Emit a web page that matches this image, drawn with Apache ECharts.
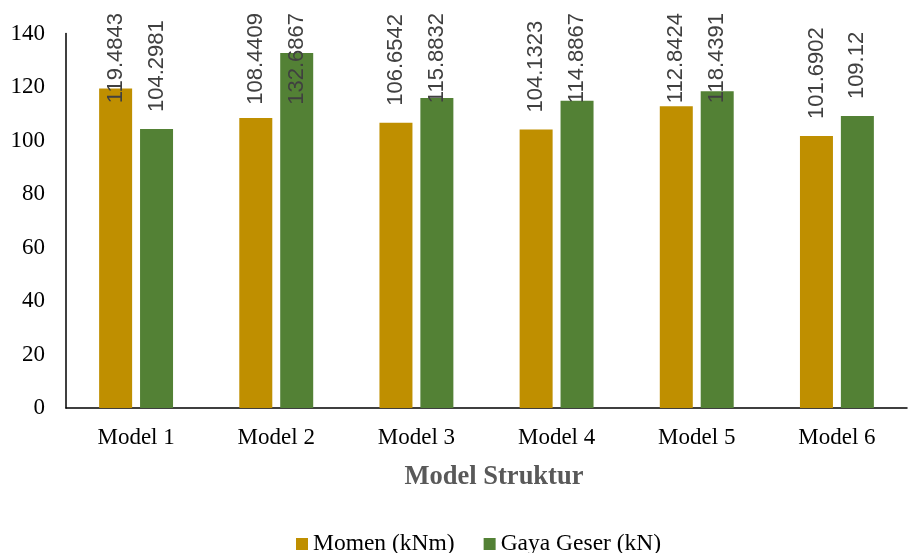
<!DOCTYPE html>
<html><head><meta charset="utf-8">
<script src="https://cdn.jsdelivr.net/npm/echarts@6/dist/echarts.min.js"></script>
<style>html,body{margin:0;padding:0;background:#fff}#c{width:909px;height:553px}</style>
</head><body><div id="c"></div>
<script>
const categories = ['Model 1','Model 2','Model 3','Model 4','Model 5','Model 6'];
const momen = [119.4843, 108.4409, 106.6542, 104.1323, 112.8424, 101.6902];
const gaya = [104.2981, 132.6867, 115.8832, 114.8867, 118.4391, 109.12];
const seriesNames = ['Momen (kNm)', 'Gaya Geser (kN)'];
const yTicks = [0, 20, 40, 60, 80, 100, 120, 140];

const chart = echarts.init(document.getElementById('c'), null, {renderer:'canvas'});
const serif = "'Liberation Serif','Times New Roman',serif";
const sans = "'Liberation Sans',Arial,sans-serif";
const lbl = {
  show: true, position: 'top', distance: 17, rotate: 90,
  align: 'left', verticalAlign: 'middle', overflow: 'none',
  fontFamily: sans, fontSize: 22, color: '#404040',
  formatter: p => String(p.value)
};
chart.setOption({
  animation: false,
  grid: {left: 66, right: 2, top: 33.5, bottom: 145, containLabel: false},
  legend: {
    top: 527, left: 291, itemWidth: 12, itemHeight: 12, itemGap: 29,
    icon: 'rect',
    textStyle: {fontFamily: serif, fontSize: 23.5, color: '#000'},
    data: seriesNames
  },
  xAxis: {
    type: 'category', data: categories,
    name: 'Model Struktur', nameLocation: 'middle', nameGap: 56,
    nameTextStyle: {fontFamily: serif, fontSize: 26.5, fontWeight: 'bold', color: '#595959', padding: [0,0,0,15]},
    axisLine: {lineStyle: {color: '#000', width: 1.5}},
    axisTick: {show: false},
    axisLabel: {fontFamily: serif, fontSize: 23, color: '#000', margin: 18}
  },
  yAxis: {
    type: 'value', min: yTicks[0], max: yTicks[yTicks.length-1], interval: 20,
    axisLine: {show: true, lineStyle: {color: '#000', width: 1.5}},
    axisTick: {show: false},
    splitLine: {show: false},
    axisLabel: {fontFamily: serif, fontSize: 23, color: '#000', margin: 21}
  },
  labelLayout: function (p) {
    const r = p.labelRect;
    const minTop = 13;
    if (r.y < minTop) return {dx: r.y - minTop};
    return {};
  },
  series: [
    {name: seriesNames[0], type: 'bar', data: momen, barWidth: 33, barGap: '24%',
     itemStyle: {color: '#BF8F00'}, label: lbl},
    {name: seriesNames[1], type: 'bar', data: gaya, barWidth: 33, barGap: '24%',
     itemStyle: {color: '#538135'}, label: lbl}
  ]
});
</script></body></html>
